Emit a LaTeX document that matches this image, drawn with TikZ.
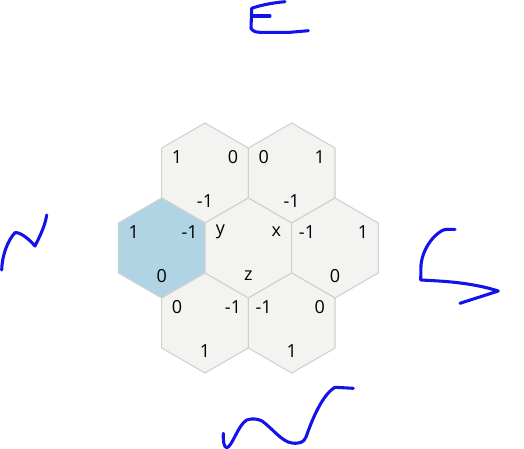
\documentclass[tikz,border=0pt]{standalone}
\usepackage{fontspec}
\setmainfont{Open Sans}
\definecolor{cellgray}{RGB}{243,243,241}
\definecolor{celledge}{RGB}{208,208,206}
\definecolor{cellblue}{RGB}{176,212,228}
\definecolor{inkblue}{RGB}{18,18,235}
\tikzset{
  cell/.style={fill=cellgray,draw=celledge,line width=0.8pt},
  num/.style={inner sep=0pt,font=\fontsize{13.5}{16}\selectfont},
  ink/.style={draw=inkblue,line width=2.3pt,line cap=round,line join=round}
}
\begin{document}
\begin{tikzpicture}[x=0.75pt,y=-0.75pt]
  \useasboundingbox (0,0) rectangle (524,449);
  % the seven cells, labels at upper left, upper right and bottom
  \foreach \n/\x/\y/\a/\b/\c/\f in {tl/205/173/1/0/-1/cellgray,
      tr/291.7/173/0/1/-1/cellgray,
      ml/161.7/248/1/-1/0/cellblue,
      mc/248.3/248/y/x/z/cellgray,
      mr/335/248/-1/1/0/cellgray,
      bl/205/323/0/-1/1/cellgray,
      br/291.7/323/-1/0/1/cellgray}{
    \coordinate (\n) at (\x,\y);
    \filldraw[cell,fill=\f] (\n) +(90:50) -- +(30:50) -- +(-30:50) -- +(-90:50)
      -- +(-150:50) -- +(150:50) -- cycle;
    \node[num] (\n-a) at ([shift={(-28,-16)}]\n) {\a};
    \node[num] (\n-b) at ([shift={(28,-16)}]\n) {\b};
    \node[num] (\n-c) at ([shift={(0,28)}]\n) {\c};
  }
  % hand strokes
  \draw[ink] (285,1.7) .. controls (270,3) and (258,6) .. (251.7,8.3)
    -- (251,28.3) .. controls (253,31.5) and (256,32.3) .. (260,32.3)
    -- (290,32.3) -- (308.3,30.7);
  \draw[ink] (252.7,16) -- (270,16);
  \draw[ink] (1.7,270) .. controls (2,255) and (8,240) .. (15,232.7)
    .. controls (20,232) and (28,238) .. (35,246)
    .. controls (40,236) and (45,226) .. (46.7,215);
  \draw[ink] (455,229.3) -- (445,229.5) .. controls (438,231) and (423,245) .. (421,265)
    -- (420.7,280) .. controls (440,281) and (470,282) .. (498.3,291)
    -- (460,303.3);
  \draw[ink] (223.3,433.3) .. controls (223,442) and (224,447) .. (226.7,447.7)
    .. controls (232,447) and (238,425) .. (246.7,420)
    .. controls (252,418) and (258,419) .. (262,421)
    .. controls (272,428) and (282,442) .. (292,443)
    .. controls (300,444) and (304,442) .. (306,437)
    .. controls (312,420) and (322,395) .. (335,387.3)
    -- (353.3,388.3);
\end{tikzpicture}
\end{document}
